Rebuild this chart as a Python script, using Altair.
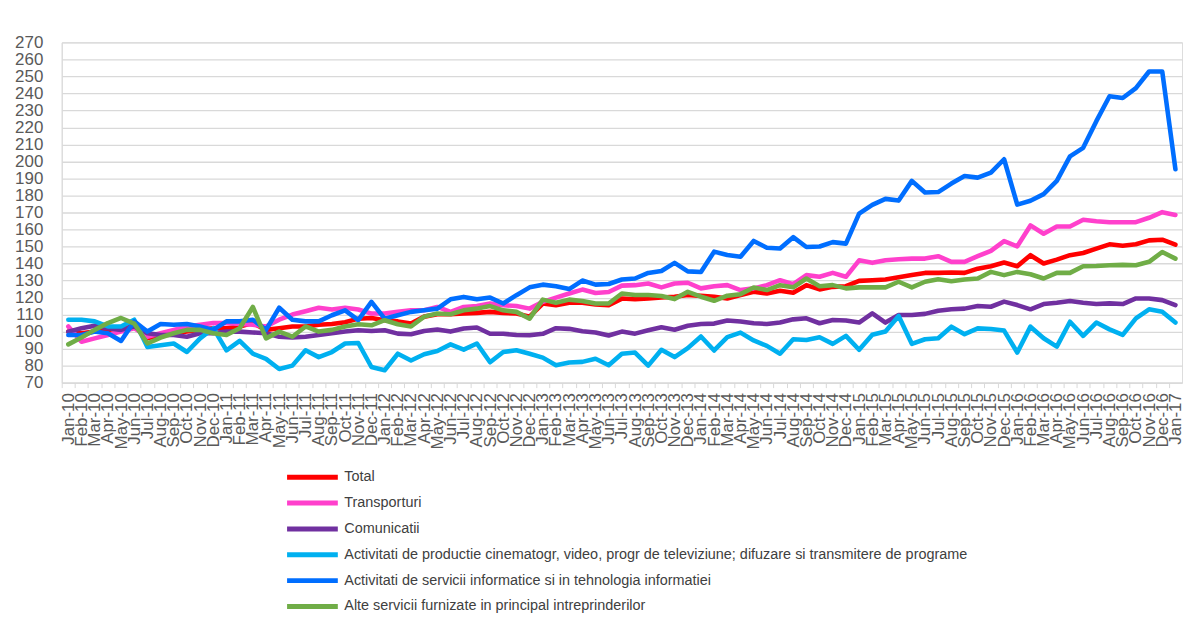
import altair as alt
import pandas as pd

MONTHS = ["Jan", "Feb", "Mar", "Apr", "May", "Jun", "Jul", "Aug", "Sep", "Oct", "Nov", "Dec"]
labels = [f"{m}-{y}" for y in range(10, 17) for m in MONTHS] + ["Jan-17"]

total = [100, 99, 100, 101, 102, 103, 96, 98, 99, 100, 101, 102, 102, 103, 105, 101, 102, 103, 103, 104, 104.5, 105.5,
         107.6, 108, 106.7, 106, 104.7, 108.8, 110.2, 110.2, 110.6, 111, 111.6, 111, 110.6, 108.8, 116.5, 115.5, 117, 117, 116, 115.5, 119.4,
         119, 119.4, 120, 120.5, 121.5, 121, 120.5, 119.5, 121.5, 123.4, 122.4, 124, 122.8, 127.3, 124.8, 126.3, 126.7, 129.8, 130.2, 130.6, 132,
         133.2, 134.5, 134.5, 134.7, 134.5, 137, 138.4, 140.6, 138.4, 144.9, 140, 142.3, 144.9, 146.2, 148.8, 151.3, 150.5, 151.3, 153.6, 154, 151.1]

transporturi = [103, 94, 96, 98, 100, 102, 97, 99, 101, 103, 104, 105, 105, 104.5, 104, 103, 107, 110, 112, 114, 113, 114,
                113, 110.6, 110.6, 111.6, 112.5, 112.5, 114.5, 111.6, 114.5, 115, 116.5, 115.5, 115, 113.5, 117.5, 120, 122.4, 124.7, 122.7, 123.3, 127,
                127.3, 128.3, 126, 128.3, 128.7, 125.4, 126.7, 127.3, 124.4, 125.4, 127.3, 130.2, 127.9, 133.2, 132.2, 134.5, 132.2, 141.9, 140.4, 141.9, 142.5,
                142.9, 142.9, 144.3, 141, 141, 144.3, 147.4, 153.2, 150.1, 162.4, 157.5, 161.8, 161.8, 165.7, 164.9, 164.3, 164.3, 164.3, 166.9, 170.2, 168.6]

comunicatii = [100, 102, 103.5, 102, 101, 103, 99, 98, 98, 97, 99, 99, 100, 100, 99.5, 99, 97, 96.5, 97, 98, 99, 100,
               100.8, 100.4, 100.8, 98.8, 98.4, 100.4, 101.2, 100, 101.8, 102.4, 98.7, 98.7, 98, 97.9, 98.7, 102, 101.6, 100.2, 99.5, 97.7, 100,
               98.8, 100.8, 102.5, 101.1, 103.4, 104.5, 104.7, 106.5, 105.9, 104.9, 104.5, 105.3, 107.2, 107.8, 104.9, 106.8, 106.5, 105.3, 110.7, 105.3, 109.8,
               109.8, 110.4, 112.3, 113.1, 113.5, 115, 114.6, 117.6, 115.6, 113.1, 116.2, 117, 118, 117, 116.2, 116.6, 116.2, 119.5, 119.5, 118.5, 115.6]

cinematografie = [107, 107, 106, 103, 103, 107, 91, 92, 93, 88, 96, 102, 89, 94.5, 87, 84, 78, 80, 89, 85, 88, 93,
                  93.3, 79.2, 77.3, 87, 83, 86.7, 88.6, 92.5, 89.4, 93, 82, 88, 89, 87, 84.7, 80.2, 81.8, 82.2, 84, 80.2, 87,
                  87.7, 80, 89.3, 85, 90.3, 97.1, 88.9, 96.7, 99.4, 94.8, 91.6, 87, 95.5, 95.1, 96.7, 92.8, 97.5, 89.3, 98.1, 100, 109.2,
                  92.8, 95.5, 96.1, 102.9, 98.5, 101.9, 101.5, 100.6, 87.7, 102.9, 96.1, 91.2, 105.8, 97.5, 105.3, 101.3, 98.1, 107.8, 113.1, 111.7, 105.3]

informatice = [98, 98, 100, 99, 94.5, 106, 100, 104.5, 104, 104.5, 103, 101, 106, 106, 107, 101, 114, 107, 106, 106, 109.6, 112.5,
               106.7, 117.5, 107.6, 109.6, 111.6, 112.5, 113.5, 119, 120.4, 119, 120, 116.5, 121.4, 126, 127.6, 126.7, 125, 130, 127.6, 128, 130.6,
               131.2, 134.5, 135.6, 140.4, 135.4, 135, 147, 145, 144, 153.3, 149.3, 148.8, 155.5, 149.7, 150, 152.6, 151.7, 169.3, 174.5, 178, 177,
               188.6, 181.8, 182, 187, 191.5, 190.5, 193.5, 201.3, 174.6, 176.9, 180.8, 188.6, 203, 208, 223.7, 238.3, 237.3, 243.1, 252.9, 252.9, 195.4]

alte_servicii = [92.5, 96.5, 101, 105, 108, 104.7, 93, 96.5, 99, 101, 101, 99, 98, 102, 114.5, 96, 100, 97, 103, 100, 101, 103,
                 104.3, 103.7, 106.7, 104.3, 103, 108.8, 110.6, 110.2, 112.5, 113.5, 115, 112.5, 111.6, 107.6, 118.8, 117, 118.8, 118, 116.5, 116.5, 122.4,
                 121.5, 121.5, 120.9, 119.1, 123.4, 120.5, 118.1, 121.1, 122, 125.9, 124.4, 127.3, 126, 131.2, 126.7, 127.3, 125.4, 126, 126, 126, 129.3,
                 126, 129.3, 130.8, 129.6, 130.6, 131.2, 135.1, 133.2, 135.1, 133.7, 131.2, 134.5, 134.5, 138.4, 138.6, 139, 139.2, 139, 141, 146.8, 142.9]

series_names = [
    "Total",
    "Transporturi",
    "Comunicatii",
    "Activitati de productie cinematogr, video, progr de televiziune; difuzare si transmitere de programe",
    "Activitati de servicii informatice si in tehnologia informatiei",
    "Alte servicii furnizate in principal intreprinderilor",
]
series_colors = ["#FF0000", "#FF40CC", "#7030A0", "#00B0F0", "#006EFF", "#70AD47"]
series_values = [total, transporturi, comunicatii, cinematografie, informatice, alte_servicii]

rows = []
for name, vals in zip(series_names, series_values):
    for lab, v in zip(labels, vals):
        rows.append({"luna": lab, "serie": name, "valoare": v})
df = pd.DataFrame(rows)

FONT = "Liberation Sans"
WIDTH = 1126
STEP = WIDTH / 85

x_enc = alt.X(
    "luna:O",
    sort=labels,
    scale=alt.Scale(domain=labels),
    axis=alt.Axis(
        title=None, labelAngle=-90, labelFontSize=17, labelColor="#595959", labelFont=FONT,
        tickColor="#D9D9D9", tickSize=5, tickWidth=1, domainColor="#D9D9D9", domainWidth=1,
        tickOffset=-STEP / 2, labelOffset=STEP / 2, labelPadding=5,
        labelOverlap=False, grid=False,
    ),
)
y_enc = alt.Y(
    "valoare:Q",
    scale=alt.Scale(domain=[70, 270], nice=False, zero=False),
    axis=alt.Axis(
        title=None, values=list(range(70, 271, 10)), grid=True, gridColor="#D9D9D9", gridWidth=1.3,
        ticks=False, domain=True, domainColor="#D9D9D9", labelFontSize=17, labelColor="#595959",
        labelFont=FONT, labelPadding=19, labelOverlap=False,
    ),
)
color_enc = alt.Color(
    "serie:N",
    scale=alt.Scale(domain=series_names, range=series_colors),
    legend=alt.Legend(
        title=None, orient="none", legendX=224, legendY=424, direction="vertical",
        symbolType="stroke", symbolSize=2601, symbolStrokeWidth=5, clipHeight=26, rowPadding=0,
        labelFontSize=14.5, labelFont=FONT, labelColor="#404040", labelOffset=4, padding=0,
        labelLimit=900,
    ),
)

base = alt.Chart(df).mark_line(strokeWidth=4.6, strokeJoin="round", strokeCap="round").encode(
    x=x_enc, y=y_enc, color=color_enc
)
layers = [base.transform_filter(alt.datum.serie == n) for n in series_names]

chart = (
    alt.layer(*layers)
    .properties(
        width=WIDTH, height=342,
        padding={"left": 54, "top": 33, "right": 3, "bottom": 231},
        autosize=alt.AutoSizeParams(type="none"),
        background="white",
    )
    .configure_view(stroke=None)
    .configure(font=FONT)
)

chart.save("out.html", embed_options={"renderer": "svg", "actions": False})
